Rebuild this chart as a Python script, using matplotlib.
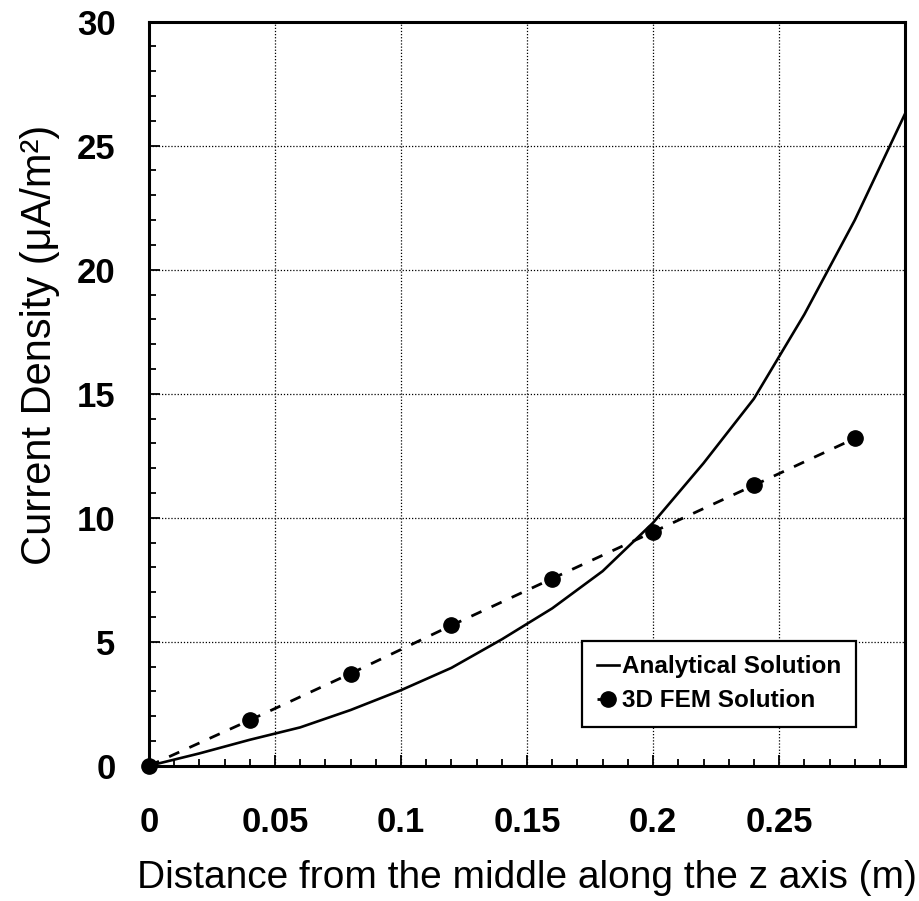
import matplotlib
matplotlib.use("Agg")
import matplotlib.pyplot as plt
from matplotlib.ticker import MultipleLocator, FixedLocator

plt.rcParams['font.family'] = ['Liberation Sans', 'DejaVu Sans']

# Analytical solution sampled along z
z_analytical = [0.0, 0.02, 0.04, 0.06, 0.08, 0.10, 0.12, 0.14, 0.16,
                0.18, 0.20, 0.22, 0.24, 0.26, 0.28, 0.30]
j_analytical = [0.0, 0.5, 1.05, 1.55, 2.25, 3.05, 3.95, 5.1, 6.35,
                7.85, 9.8, 12.2, 14.8, 18.2, 22.0, 26.3]

# 3D FEM results at the mesh sample points
z_fem = [0.0, 0.04, 0.08, 0.12, 0.16, 0.20, 0.24, 0.28]
j_fem = [0.0, 1.84, 3.72, 5.66, 7.55, 9.43, 11.31, 13.2]

x_ticks = [0, 0.05, 0.1, 0.15, 0.2, 0.25]
x_tick_labels = ['0', '0.05', '0.1', '0.15', '0.2', '0.25']
y_ticks = [0, 5, 10, 15, 20, 25, 30]

fig = plt.figure(figsize=(9.19, 9.01), dpi=100)
ax = fig.add_axes([0.162, 0.150, 0.823, 0.826])

ax.plot(z_analytical, j_analytical, color='black', lw=1.9,
        label='Analytical Solution', zorder=3)
ax.plot(z_fem, j_fem, color='black', lw=2.0, ls=(0, (4, 4)),
        marker='o', markersize=11, label='3D FEM Solution', zorder=4,
        clip_on=False)

ax.set_xlim(0, 0.3)
ax.set_ylim(0, 30)
ax.xaxis.set_major_locator(FixedLocator(x_ticks))
ax.set_xticklabels(x_tick_labels)
ax.xaxis.set_minor_locator(MultipleLocator(0.01))
ax.yaxis.set_major_locator(FixedLocator(y_ticks))
ax.yaxis.set_minor_locator(MultipleLocator(1))

ax.grid(True, which='major', color='black', ls=(0, (1, 1.5)), lw=0.9)
ax.tick_params(which='both', direction='in', top=False, right=False,
               width=1.3, colors='black')
ax.tick_params(which='major', length=8, labelsize=25)
ax.tick_params(axis='x', which='major', pad=29)
ax.tick_params(axis='y', which='major', pad=24)
ax.tick_params(which='minor', length=5)
for lbl in ax.get_xticklabels() + ax.get_yticklabels():
    lbl.set_fontweight('bold')

for sp in ax.spines.values():
    sp.set_linewidth(2.2)

ax.set_xlabel('Distance from the middle along the z axis (m)',
              fontsize=28, labelpad=15)
ax.set_ylabel('Current Density (μA/m²)', fontsize=30)
ax.yaxis.set_label_coords(-0.117, 0.565)

leg = ax.legend(loc='upper left', bbox_to_anchor=(0.573, 0.168),
                fontsize=17.5, frameon=True, fancybox=False, framealpha=1,
                edgecolor='black', handlelength=0.9, handletextpad=0.15,
                borderpad=0.6, labelspacing=0.45, borderaxespad=0)
leg.get_frame().set_linewidth(1.6)
for t in leg.get_texts():
    t.set_fontweight('bold')

fig.savefig('out.png', dpi=100, facecolor='white')
